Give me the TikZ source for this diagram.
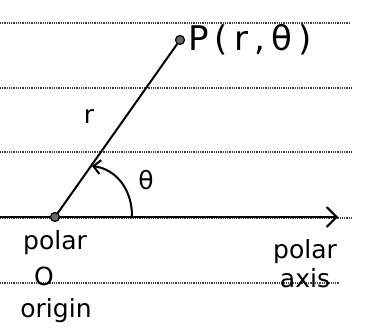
\documentclass[tikz,border=0pt]{standalone}
\usepackage{fontspec}
\setmainfont{DejaVu Sans}
\usetikzlibrary{arrows.meta}
\begin{document}
\begin{tikzpicture}[x=1pt,y=-1pt,
  ruled/.style={black!75, line width=1.3pt, dash pattern=on 0.8pt off 1pt},
  pt/.style={circle, fill=black!60, draw=black, line width=1.2pt, inner sep=0pt, minimum size=9pt},
  hand/.style={black, line width=2pt, line cap=round},
  lbl/.style={font=\fontsize{25}{26}\selectfont, inner sep=0pt}]
\useasboundingbox (0,0) rectangle (366,334);
\fill[white] (0,0) rectangle (366,334);
% ruled paper lines
\draw[ruled] (0,23) -- (350,23);
\draw[ruled] (0,88) -- (352,88);
\draw[ruled] (0,152) -- (352,152);
\draw[ruled] (0,218) -- (352,218);
\draw[ruled] (0,283) -- (340,283);
% points
\node[pt] (O) at (55,217) {};
\node[pt] (P) at (180,40) {};
\coordinate (axend) at (338,217);
\coordinate (left) at (0,217);
\coordinate (a1) at (132,216);
\coordinate (a2) at (92,166);
% lines
\draw[hand] (left) -- (O);
\draw[hand] (O) -- (P);
\draw[hand, -{Straight Barb[length=10pt, width=20pt, line width=2pt]}] (O) -- (axend);
\draw[hand, -{Straight Barb[length=7pt, width=14pt, line width=2pt]}] (a1) .. controls (132,188) and (115,169) .. (a2);
% labels
\node[lbl, anchor=west, font=\fontsize{34}{36}\selectfont\addfontfeature{LetterSpace=18}] (Pl) at (188,40) {P(r,θ)};
\node[lbl] (rl) at (89,116) {r};
\node[lbl] (tl) at (146,180) {θ};
\node[lbl] (pol1) at (55,243) {polar};
\node[lbl] (Ol) at (44,276) {O};
\node[lbl] (orig) at (56,311) {origin};
\node[lbl] (pol2) at (305,252) {polar};
\node[lbl] (axl) at (305,278) {axis};
\end{tikzpicture}
\end{document}
